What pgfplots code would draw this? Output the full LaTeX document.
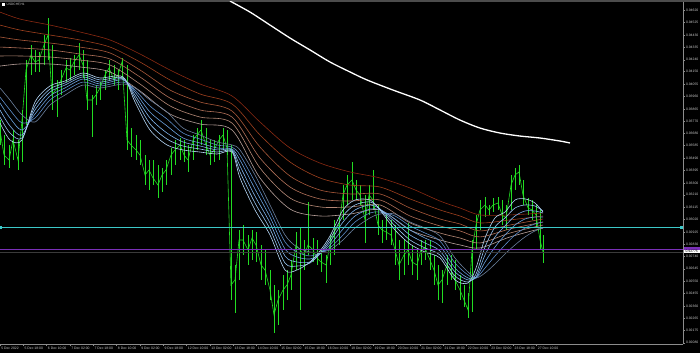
\documentclass[border=0pt]{standalone}
\usepackage{fontspec}
\setmainfont{Liberation Sans}
\usepackage{pgfplots}
\usepackage{pgfplotstable}
\pgfplotsset{compat=1.18}
\definecolor{barc}{HTML}{22DD22}
\definecolor{lbl}{HTML}{C8C8C8}
\definecolor{sA}{HTML}{8B2A12}
\definecolor{sB}{HTML}{9E401E}
\definecolor{sC}{HTML}{A8583A}
\definecolor{sD}{HTML}{B07058}
\definecolor{sE}{HTML}{B48876}
\definecolor{sF}{HTML}{B8A09A}
\definecolor{fA}{HTML}{6A7F9C}
\definecolor{fB}{HTML}{5C8CC8}
\definecolor{fC}{HTML}{6AA0DC}
\definecolor{fD}{HTML}{7EB2EA}
\definecolor{fE}{HTML}{98C6F2}
\definecolor{fF}{HTML}{B4D6F6}
\definecolor{mtcyan}{HTML}{3CC8C8}
\definecolor{mtpurple}{HTML}{7A2FB8}
\definecolor{askgray}{HTML}{3A3A3A}
\newcommand\tinyf{\fontsize{3.4}{4}\selectfont}

\pgfplotstableread{
x h l c
0 0.93780 0.93590 0.93704
4 0.93666 0.93437 0.93513
9 0.93590 0.93414 0.93475
13 0.93704 0.93475 0.93628
18 0.93628 0.93399 0.93475
22 0.93857 0.93460 0.93780
26 0.94238 0.93742 0.94162
31 0.94353 0.94124 0.94276
35 0.94315 0.94147 0.94223
39 0.94299 0.94147 0.94238
44 0.94429 0.94200 0.94353
48 0.94559 0.94238 0.94429
52 0.94353 0.93857 0.93971
57 0.94086 0.93803 0.94025
61 0.94162 0.93971 0.94086
66 0.94238 0.94070 0.94177
70 0.94253 0.94086 0.94162
74 0.94276 0.94124 0.94223
79 0.94368 0.94162 0.94276
83 0.94315 0.94101 0.94200
87 0.94238 0.93857 0.93933
92 0.93971 0.93651 0.93933
96 0.94047 0.93895 0.93971
100 0.94070 0.93933 0.94025
105 0.94162 0.94009 0.94124
109 0.94238 0.94086 0.94177
114 0.94200 0.94047 0.94086
118 0.94162 0.94009 0.94124
122 0.94253 0.94086 0.94223
127 0.94200 0.93552 0.93628
131 0.93719 0.93498 0.93590
136 0.93666 0.93475 0.93552
140 0.93628 0.93437 0.93513
145 0.93513 0.93284 0.93361
149 0.93475 0.93246 0.93399
153 0.93475 0.93284 0.93338
158 0.93437 0.93185 0.93284
162 0.93414 0.93231 0.93361
166 0.93475 0.93284 0.93399
171 0.93567 0.93361 0.93513
175 0.93628 0.93437 0.93552
180 0.93643 0.93475 0.93590
184 0.93628 0.93460 0.93513
188 0.93590 0.93384 0.93475
193 0.93666 0.93475 0.93628
197 0.93719 0.93552 0.93666
201 0.93780 0.93590 0.93704
206 0.93719 0.93513 0.93590
210 0.93628 0.93437 0.93513
214 0.93628 0.93460 0.93552
219 0.93666 0.93475 0.93628
223 0.93719 0.93552 0.93666
227 0.93704 0.93513 0.93567
231 0.93590 0.92407 0.92521
235 0.92674 0.92308 0.92560
239 0.92941 0.92560 0.92865
243 0.92979 0.92751 0.92865
248 0.92903 0.92674 0.92789
252 0.92941 0.92712 0.92880
256 0.92926 0.92697 0.92827
261 0.92827 0.92560 0.92674
265 0.92789 0.92521 0.92636
270 0.92636 0.92407 0.92483
274 0.92521 0.92155 0.92293
278 0.92483 0.92216 0.92407
283 0.92598 0.92331 0.92483
287 0.92636 0.92407 0.92521
291 0.92712 0.92483 0.92598
296 0.92926 0.92636 0.92827
300 0.92964 0.92331 0.92789
304 0.92865 0.92636 0.92751
308 0.93155 0.92751 0.92827
313 0.92880 0.92697 0.92789
317 0.92865 0.92674 0.92727
321 0.92789 0.92621 0.92697
326 0.92751 0.92537 0.92674
330 0.92903 0.92674 0.92827
334 0.93018 0.92751 0.92926
339 0.93041 0.92827 0.92979
343 0.93284 0.93018 0.93208
347 0.93361 0.93132 0.93284
352 0.93460 0.93170 0.93323
356 0.93323 0.93170 0.93246
360 0.93284 0.93132 0.93208
365 0.93208 0.92842 0.93018
369 0.93284 0.93056 0.93208
373 0.93399 0.93094 0.93170
378 0.93132 0.92903 0.92979
382 0.93018 0.92842 0.92941
386 0.93056 0.92865 0.92926
391 0.93018 0.92827 0.92903
395 0.92979 0.92674 0.92789
399 0.92865 0.92560 0.92674
404 0.92865 0.92598 0.92751
408 0.92995 0.92674 0.92789
412 0.92827 0.92598 0.92697
417 0.92789 0.92560 0.92674
421 0.92865 0.92674 0.92789
425 0.92865 0.92712 0.92804
430 0.92865 0.92636 0.92712
434 0.92751 0.92521 0.92636
438 0.92674 0.92407 0.92521
442 0.92636 0.92384 0.92560
447 0.92751 0.92521 0.92674
451 0.92751 0.92560 0.92636
455 0.92712 0.92483 0.92560
460 0.92598 0.92407 0.92483
464 0.92521 0.92354 0.92407
468 0.92460 0.92270 0.92331
472 0.92865 0.92316 0.92789
476 0.93056 0.92789 0.92979
480 0.93170 0.92941 0.93094
485 0.93193 0.93041 0.93132
489 0.93132 0.93056 0.93094
493 0.93185 0.93078 0.93132
498 0.93193 0.93094 0.93147
502 0.93170 0.92979 0.93056
506 0.93132 0.92941 0.93033
511 0.93361 0.93094 0.93284
515 0.93414 0.93246 0.93361
519 0.93437 0.93284 0.93384
523 0.93323 0.93132 0.93208
528 0.93185 0.93056 0.93109
532 0.93170 0.93018 0.93094
536 0.93132 0.92964 0.93056
540 0.93094 0.92789 0.92865
543 0.92903 0.92689 0.92773
}\candles

\pgfplotstableread{
x s1 s2 s3 s4 s5 s6
0 0.94604 0.94505 0.94414 0.94337 0.94269 0.94192
20 0.94551 0.94467 0.94391 0.94330 0.94269 0.94208
50 0.94505 0.94429 0.94368 0.94315 0.94261 0.94208
80 0.94452 0.94391 0.94337 0.94284 0.94238 0.94185
110 0.94391 0.94337 0.94292 0.94246 0.94200 0.94147
140 0.94284 0.94223 0.94162 0.94109 0.94055 0.94002
170 0.94162 0.94086 0.94009 0.93948 0.93888 0.93826
200 0.94055 0.93979 0.93918 0.93857 0.93803 0.93750
232 0.93964 0.93903 0.93849 0.93803 0.93757 0.93704
260 0.93765 0.93666 0.93574 0.93490 0.93414 0.93338
290 0.93567 0.93460 0.93353 0.93269 0.93185 0.93101
320 0.93452 0.93338 0.93246 0.93178 0.93117 0.93048
350 0.93384 0.93284 0.93216 0.93162 0.93117 0.93063
380 0.93338 0.93269 0.93216 0.93170 0.93132 0.93094
410 0.93262 0.93178 0.93109 0.93048 0.92995 0.92941
440 0.93162 0.93094 0.93025 0.92972 0.92918 0.92865
460 0.93109 0.93048 0.92987 0.92934 0.92880 0.92827
480 0.93056 0.92995 0.92934 0.92888 0.92842 0.92804
510 0.93056 0.93018 0.92979 0.92949 0.92918 0.92888
543 0.93071 0.93048 0.93025 0.93002 0.92979 0.92956
}\slow

\pgfplotstableread{
x f1 f2 f3 f4 f5 f6
0 0.94025 0.93956 0.93910 0.93857 0.93803 0.93758
10 0.93933 0.93857 0.93796 0.93735 0.93681 0.93628
22 0.93819 0.93758 0.93704 0.93666 0.93643 0.93628
35 0.93765 0.93796 0.93826 0.93857 0.93887 0.93918
50 0.93895 0.93933 0.93964 0.93994 0.94017 0.94040
65 0.93971 0.94002 0.94025 0.94047 0.94063 0.94078
83 0.94047 0.94070 0.94093 0.94109 0.94124 0.94139
100 0.94025 0.94040 0.94055 0.94070 0.94086 0.94101
123 0.94055 0.94070 0.94086 0.94093 0.94101 0.94109
135 0.94025 0.94009 0.93994 0.93971 0.93948 0.93918
150 0.93933 0.93887 0.93841 0.93796 0.93750 0.93704
167 0.93841 0.93788 0.93735 0.93681 0.93635 0.93590
183 0.93719 0.93681 0.93643 0.93613 0.93582 0.93552
200 0.93666 0.93635 0.93605 0.93582 0.93559 0.93536
217 0.93613 0.93590 0.93567 0.93552 0.93536 0.93521
232 0.93590 0.93574 0.93559 0.93552 0.93544 0.93536
240 0.93552 0.93513 0.93475 0.93429 0.93384 0.93338
255 0.93361 0.93307 0.93254 0.93200 0.93147 0.93094
270 0.93132 0.93086 0.93040 0.92995 0.92949 0.92903
285 0.92903 0.92850 0.92796 0.92743 0.92689 0.92636
297 0.92811 0.92773 0.92735 0.92697 0.92666 0.92636
310 0.92773 0.92743 0.92720 0.92697 0.92689 0.92697
320 0.92773 0.92766 0.92758 0.92758 0.92766 0.92781
330 0.92789 0.92804 0.92827 0.92850 0.92872 0.92895
343 0.92865 0.92903 0.92949 0.93002 0.93048 0.93094
355 0.92956 0.93002 0.93048 0.93094 0.93132 0.93170
370 0.93033 0.93071 0.93101 0.93132 0.93155 0.93170
380 0.93063 0.93078 0.93094 0.93101 0.93101 0.93094
395 0.93063 0.93048 0.93025 0.93002 0.92972 0.92941
410 0.93002 0.92972 0.92941 0.92903 0.92865 0.92834
425 0.92956 0.92918 0.92880 0.92842 0.92804 0.92773
440 0.92895 0.92857 0.92819 0.92781 0.92750 0.92727
455 0.92727 0.92689 0.92651 0.92621 0.92590 0.92560
468 0.92621 0.92598 0.92575 0.92560 0.92544 0.92537
476 0.92575 0.92575 0.92575 0.92582 0.92605 0.92651
485 0.92613 0.92651 0.92697 0.92750 0.92811 0.92880
495 0.92682 0.92743 0.92811 0.92888 0.92964 0.93033
505 0.92758 0.92827 0.92903 0.92972 0.93033 0.93078
515 0.92827 0.92903 0.92979 0.93048 0.93109 0.93170
525 0.92888 0.92956 0.93025 0.93086 0.93132 0.93178
535 0.92934 0.92987 0.93040 0.93086 0.93124 0.93147
543 0.92956 0.93002 0.93040 0.93071 0.93086 0.93078
}\fast

\pgfplotstableread{
x w
230 0.94688
250 0.94604
270 0.94505
290 0.94406
310 0.94315
330 0.94223
350 0.94147
367 0.94086
393 0.94009
420 0.93933
440 0.93857
460 0.93780
480 0.93719
500 0.93681
520 0.93658
540 0.93643
560 0.93620
570 0.93605
}\wline

\begin{document}
\begin{tikzpicture}[x=1pt,y=1pt]
\fill[black] (0,0) rectangle (700,353);
\useasboundingbox (0,0) rectangle (700,353);
\fill[black!70] (0,351) rectangle (700,353);
\begin{axis}[
  at={(0pt,9pt)}, anchor=south west, scale only axis,
  width=683pt, height=342pt,
  xmin=0, xmax=683, ymin=0.92071, ymax=0.94681,
  axis x line*=bottom, axis y line*=right,
  axis line style={draw=black!45, line width=0.6pt},
  clip mode=individual,
  tick align=outside, major tick length=2pt,
  tick style={draw=black!45, line width=0.4pt},
  xtick={0,23.33,46.67,70,93.33,116.67,140,163.33,186.67,210,233.33,256.67,280,303.33,326.67,350,373.33,396.67,420,443.33,466.67,490,513.33,536.67},
  xticklabels={5 Dec 2022,5 Dec 18:00,6 Dec 10:00,7 Dec 02:00,7 Dec 18:00,8 Dec 10:00,9 Dec 02:00,9 Dec 18:00,12 Dec 10:00,13 Dec 02:00,13 Dec 18:00,14 Dec 10:00,15 Dec 02:00,15 Dec 18:00,16 Dec 10:00,19 Dec 02:00,19 Dec 18:00,20 Dec 10:00,21 Dec 02:00,21 Dec 18:00,22 Dec 10:00,23 Dec 02:00,23 Dec 18:00,27 Dec 10:00},
  xticklabel style={anchor=north west, inner sep=0.5pt, xshift=0.6pt, yshift=-0.3pt, font=\tinyf, text=lbl},
  ytick={0.92080,0.92175,0.92265,0.92360,0.92455,0.92550,0.92645,0.92740,0.92830,0.92925,0.93020,0.93115,0.93210,0.93300,0.93395,0.93490,0.93585,0.93680,0.93770,0.93865,0.93960,0.94055,0.94150,0.94240,0.94335,0.94430,0.94525,0.94620},
  scaled y ticks=false,
  yticklabel style={anchor=west, inner sep=0.5pt, xshift=0.3pt, font=\tinyf, text=lbl,
    /pgf/number format/.cd, fixed, fixed zerofill, precision=5, assume math mode=true},
]
% candles
\addplot[barc, line width=0.6pt, mark=none] table[x=x, y=c] {\candles};
\addplot[draw=none, mark=none, forget plot,
  error bars/.cd, y dir=both, y explicit, error mark=none,
  error bar style={draw=barc, line width=0.9pt}]
  table[x=x, y=c, y error plus expr=\thisrow{h}-\thisrow{c}, y error minus expr=\thisrow{c}-\thisrow{l}] {\candles};
% slow ribbon
\addplot[sA, line width=0.6pt, smooth, tension=0.5] table[x=x, y=s1] {\slow};
\addplot[sB, line width=0.6pt, smooth, tension=0.5] table[x=x, y=s2] {\slow};
\addplot[sC, line width=0.6pt, smooth, tension=0.5] table[x=x, y=s3] {\slow};
\addplot[sD, line width=0.6pt, smooth, tension=0.5] table[x=x, y=s4] {\slow};
\addplot[sE, line width=0.6pt, smooth, tension=0.5] table[x=x, y=s5] {\slow};
\addplot[sF, line width=0.6pt, smooth, tension=0.5] table[x=x, y=s6] {\slow};
% fast ribbon
\addplot[fA, line width=0.6pt, smooth, tension=0.5] table[x=x, y=f1] {\fast};
\addplot[fB, line width=0.6pt, smooth, tension=0.5] table[x=x, y=f2] {\fast};
\addplot[fC, line width=0.6pt, smooth, tension=0.5] table[x=x, y=f3] {\fast};
\addplot[fD, line width=0.6pt, smooth, tension=0.5] table[x=x, y=f4] {\fast};
\addplot[fE, line width=0.6pt, smooth, tension=0.5] table[x=x, y=f5] {\fast};
\addplot[fF, line width=0.6pt, smooth, tension=0.5] table[x=x, y=f6] {\fast};
% long MA
\addplot[white, line width=1.3pt, smooth, tension=0.5] table[x=x, y=w] {\wline};
% horizontal lines
\addplot[askgray, line width=0.5pt] coordinates {(0,0.92773) (683,0.92773)};
\addplot[mtpurple, line width=0.6pt] coordinates {(0,0.92794) (683,0.92794)};
\addplot[mtcyan, line width=0.7pt, mark=square*, mark size=1.1pt, mark options={fill=mtcyan}] coordinates {(0,0.92962) (681,0.92962)};
% bid label
\fill[mtpurple] (axis cs:683.5,0.92808) rectangle (axis cs:700,0.92790);
\node[fill=white, text=black, font=\tinyf, inner sep=0.4pt, anchor=north west, minimum width=16pt, align=left] at (axis cs:683.5,0.92792) {0.92775};
\end{axis}
\fill[white] (2,347) rectangle (5,350);
\node[anchor=west, font=\fontsize{3.2}{4}\selectfont, text=lbl, inner sep=0pt] at (6.5,348.5) {USDCHF,H1};
\end{tikzpicture}
\end{document}
